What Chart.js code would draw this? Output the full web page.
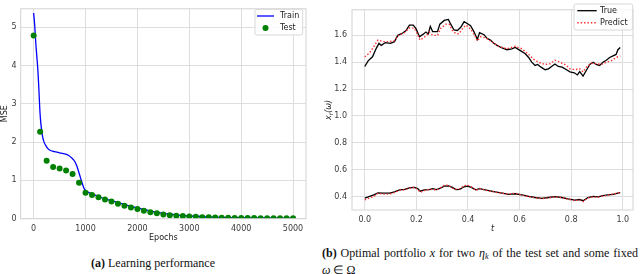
<!DOCTYPE html>
<html>
<head>
<meta charset="utf-8">
<script src="https://cdn.jsdelivr.net/npm/chart.js@4.4.1/dist/chart.umd.min.js"></script>
<style>
  html, body { margin: 0; padding: 0; background: #fff; }
  #page { position: relative; width: 640px; height: 274px; overflow: hidden; }
  canvas { position: absolute; }
  .cap { position: absolute; font-family: 'Liberation Serif', 'Times New Roman', serif; font-size: 12px; line-height: 14px; color: #111; white-space: nowrap; }
  .cap sub { font-size: 8px; line-height: 0; vertical-align: -2px; }
</style>
</head>
<body>
<div id="page">
  <canvas id="lossChart" width="320" height="250" style="left:0;top:0"></canvas>
  <canvas id="portfolioChart" width="320" height="236" style="left:320px;top:0"></canvas>
  <div class="cap" style="left:0;width:306px;top:256px;text-align:center"><b>(a)</b> Learning performance</div>
  <div class="cap" style="left:322px;width:316px;top:246px;text-align:justify;text-align-last:justify"><b>(b)</b> Optimal portfolio <i>x</i> for two <i>η<sub>k</sub></i> of the test set and some fixed</div>
  <div class="cap" style="left:322px;top:263px"><i>ω</i> ∈ Ω</div>
</div>
<script>
// ---- 左图：学习曲线 (MSE vs Epochs) ----
const testEpochs = [0, 125, 250, 375, 500, 625, 750, 875, 1000, 1125, 1250, 1375, 1500, 1625, 1750, 1875,
  2000, 2125, 2250, 2375, 2500, 2625, 2750, 2875, 3000, 3125, 3250, 3375, 3500, 3625, 3750, 3875,
  4000, 4125, 4250, 4375, 4500, 4625, 4750, 4875, 5000];
const testMse = [4.78, 2.27, 1.51, 1.35, 1.31, 1.26, 1.17, 0.94, 0.68, 0.62, 0.56, 0.50, 0.45, 0.39, 0.34, 0.29,
  0.25, 0.21, 0.17, 0.14, 0.11, 0.09, 0.08, 0.07, 0.06, 0.05, 0.04, 0.035, 0.03, 0.027, 0.024, 0.021,
  0.019, 0.017, 0.016, 0.015, 0.014, 0.013, 0.012, 0.011, 0.01];
const trainEpochs = [0, 20, 40, 60, 80, 100, 115, 130, 150, 175, 200, 225, 275, 325, 400, 500, 600, 675, 740,
  790, 830, 865, 900, 930, 960, 990, 1030, 1125, 1250, 1375, 1500, 1750, 2000, 2250, 2500, 2750, 3000,
  3500, 4000, 4500, 5000];
const trainMse = [5.37, 5.05, 4.6, 4.25, 3.9, 3.4, 2.95, 2.62, 2.35, 2.12, 2.0, 1.93, 1.83, 1.78, 1.75, 1.72,
  1.69, 1.65, 1.58, 1.5, 1.38, 1.24, 1.08, 0.95, 0.83, 0.75, 0.70, 0.65, 0.58, 0.52, 0.47, 0.37, 0.28,
  0.20, 0.14, 0.10, 0.07, 0.04, 0.025, 0.018, 0.013];
const lossXTicks = [0, 1000, 2000, 3000, 4000, 5000];
const lossYTicks = [0, 1, 2, 3, 4, 5];

// ---- 右图：最优组合 x_r(ω) vs t ----
const upperTrue = [[0, 1.368], [0.013, 1.41], [0.03, 1.44], [0.045, 1.505], [0.055, 1.54], [0.064, 1.525],
  [0.08, 1.546], [0.1, 1.54], [0.115, 1.553], [0.128, 1.6], [0.147, 1.617], [0.16, 1.635], [0.173, 1.676],
  [0.188, 1.676], [0.199, 1.648], [0.212, 1.589], [0.224, 1.605], [0.237, 1.624], [0.246, 1.61], [0.254, 1.667],
  [0.263, 1.628], [0.282, 1.628], [0.291, 1.683], [0.308, 1.711], [0.324, 1.718], [0.333, 1.683], [0.346, 1.64],
  [0.359, 1.636], [0.372, 1.66], [0.385, 1.702], [0.397, 1.688], [0.41, 1.671], [0.423, 1.628], [0.436, 1.57],
  [0.445, 1.62], [0.462, 1.605], [0.474, 1.577], [0.487, 1.565], [0.5, 1.541], [0.513, 1.525], [0.532, 1.506],
  [0.551, 1.493], [0.57, 1.5], [0.583, 1.51], [0.603, 1.486], [0.622, 1.463], [0.635, 1.435], [0.647, 1.4],
  [0.66, 1.376], [0.67, 1.383], [0.683, 1.363], [0.699, 1.344], [0.712, 1.351], [0.724, 1.368], [0.737, 1.387],
  [0.75, 1.368], [0.765, 1.363], [0.782, 1.344], [0.795, 1.328], [0.812, 1.321], [0.824, 1.305], [0.833, 1.33],
  [0.846, 1.297], [0.859, 1.34], [0.872, 1.383], [0.885, 1.4], [0.897, 1.383], [0.91, 1.376], [0.923, 1.4],
  [0.936, 1.415], [0.949, 1.435], [0.962, 1.447], [0.974, 1.458], [0.981, 1.493], [0.99, 1.51]];
const upperPredict = [[0, 1.44], [0.019, 1.47], [0.038, 1.525], [0.051, 1.565], [0.071, 1.553], [0.096, 1.553],
  [0.115, 1.56], [0.128, 1.595], [0.154, 1.62], [0.173, 1.655], [0.192, 1.653], [0.205, 1.605], [0.214, 1.565],
  [0.227, 1.58], [0.24, 1.6], [0.25, 1.624], [0.263, 1.6], [0.282, 1.6], [0.295, 1.653], [0.314, 1.683],
  [0.327, 1.683], [0.34, 1.636], [0.353, 1.612], [0.365, 1.612], [0.378, 1.648], [0.391, 1.676], [0.404, 1.66],
  [0.417, 1.628], [0.429, 1.589], [0.436, 1.558], [0.449, 1.589], [0.468, 1.582], [0.487, 1.558], [0.506, 1.534],
  [0.519, 1.518], [0.551, 1.5], [0.583, 1.518], [0.609, 1.5], [0.635, 1.458], [0.654, 1.423], [0.673, 1.4],
  [0.699, 1.383], [0.718, 1.388], [0.737, 1.415], [0.756, 1.4], [0.776, 1.383], [0.795, 1.351], [0.814, 1.344],
  [0.833, 1.351], [0.846, 1.328], [0.859, 1.363], [0.878, 1.392], [0.897, 1.388], [0.917, 1.383], [0.936, 1.4],
  [0.955, 1.41], [0.974, 1.435], [0.99, 1.447]];
const lowerTrue = [[0, 0.388], [0.019, 0.402], [0.035, 0.412], [0.051, 0.428], [0.071, 0.426], [0.096, 0.426],
  [0.115, 0.435], [0.135, 0.45], [0.154, 0.454], [0.173, 0.464], [0.192, 0.468], [0.205, 0.459], [0.215, 0.44],
  [0.231, 0.45], [0.25, 0.452], [0.263, 0.459], [0.279, 0.452], [0.295, 0.464], [0.308, 0.478], [0.324, 0.48],
  [0.34, 0.468], [0.353, 0.452], [0.368, 0.454], [0.385, 0.473], [0.397, 0.478], [0.413, 0.468], [0.43, 0.45],
  [0.445, 0.459], [0.462, 0.452], [0.481, 0.445], [0.506, 0.435], [0.532, 0.426], [0.558, 0.417], [0.583, 0.421],
  [0.609, 0.412], [0.635, 0.402], [0.66, 0.393], [0.686, 0.386], [0.712, 0.393], [0.737, 0.4], [0.763, 0.393],
  [0.788, 0.383], [0.814, 0.374], [0.833, 0.378], [0.846, 0.369], [0.865, 0.393], [0.885, 0.402], [0.904, 0.398],
  [0.923, 0.407], [0.942, 0.412], [0.962, 0.417], [0.981, 0.426], [0.99, 0.43]];
const lowerPredict = [[0, 0.375], [0.019, 0.39], [0.035, 0.4], [0.051, 0.425], [0.071, 0.418], [0.096, 0.418],
  [0.115, 0.43], [0.135, 0.448], [0.154, 0.45], [0.173, 0.462], [0.192, 0.47], [0.205, 0.452], [0.215, 0.432],
  [0.231, 0.445], [0.25, 0.455], [0.263, 0.452], [0.279, 0.448], [0.295, 0.468], [0.308, 0.482], [0.324, 0.485],
  [0.34, 0.462], [0.353, 0.455], [0.368, 0.458], [0.385, 0.48], [0.397, 0.485], [0.413, 0.472], [0.43, 0.445],
  [0.445, 0.46], [0.462, 0.45], [0.481, 0.442], [0.506, 0.432], [0.532, 0.425], [0.558, 0.418], [0.583, 0.425],
  [0.609, 0.41], [0.635, 0.4], [0.66, 0.39], [0.686, 0.385], [0.712, 0.39], [0.737, 0.398], [0.763, 0.392],
  [0.788, 0.38], [0.814, 0.37], [0.833, 0.375], [0.846, 0.362], [0.865, 0.39], [0.885, 0.398], [0.904, 0.395],
  [0.923, 0.405], [0.942, 0.41], [0.962, 0.42], [0.981, 0.425], [0.99, 0.435]];
const portXTicks = [0.0, 0.2, 0.4, 0.6, 0.8, 1.0];
const portYTicks = [0.4, 0.6, 0.8, 1.0, 1.2, 1.4, 1.6];

const GRID = '#dedede';
const FRAME = '#d2d2d2';
const TICK_COLOR = '#3a3a3a';
const SANS = "'DejaVu Sans', sans-serif";

const toXY = (xs, ys) => xs.map((x, i) => ({ x: x, y: ys[i] }));
const pairsToXY = pairs => pairs.map(p => ({ x: p[0], y: p[1] }));

// 画图框（seaborn whitegrid 风格的四边框）
const framePlugin = {
  id: 'frame',
  afterDraw(chart) {
    const { ctx, chartArea: a } = chart;
    ctx.save();
    ctx.strokeStyle = FRAME;
    ctx.lineWidth = 1;
    ctx.strokeRect(a.left, a.top, a.right - a.left, a.bottom - a.top);
    ctx.restore();
  }
};

// 图内图例
const boxLegendPlugin = {
  id: 'boxLegend',
  afterDraw(chart, args, opts) {
    if (!opts.items) return;
    const { ctx } = chart;
    const b = opts.box;
    ctx.save();
    ctx.fillStyle = 'rgba(255,255,255,0.85)';
    ctx.strokeStyle = '#d8d8d8';
    ctx.lineWidth = 1;
    ctx.beginPath();
    ctx.roundRect(b.x, b.y, b.w, b.h, 2);
    ctx.fill();
    ctx.stroke();
    ctx.font = '8px ' + SANS;
    ctx.textBaseline = 'middle';
    opts.items.forEach(it => {
      const ds = chart.data.datasets[it.dataset];
      if (it.kind === 'line') {
        ctx.strokeStyle = ds.borderColor;
        ctx.lineWidth = ds.borderWidth;
        ctx.setLineDash(ds.borderDash || []);
        ctx.beginPath();
        ctx.moveTo(it.x0, it.y);
        ctx.lineTo(it.x1, it.y);
        ctx.stroke();
        ctx.setLineDash([]);
      } else {
        ctx.fillStyle = ds.pointBackgroundColor;
        ctx.beginPath();
        ctx.arc((it.x0 + it.x1) / 2, it.y, ds.pointRadius, 0, Math.PI * 2);
        ctx.fill();
      }
      ctx.fillStyle = '#222';
      ctx.textAlign = 'left';
      ctx.fillText(ds.label, it.tx, it.y);
    });
    ctx.restore();
  }
};

// y 轴标题 x_r(ω)，带下标
const mathYTitlePlugin = {
  id: 'mathYTitle',
  afterDraw(chart, args, opts) {
    if (!opts.x) return;
    const { ctx, chartArea: a } = chart;
    const main = 'italic 8px ' + SANS;
    const sub = 'italic 6px ' + SANS;
    ctx.save();
    ctx.font = main;
    const wx = ctx.measureText('x').width;
    const wp = ctx.measureText('(ω)').width;
    ctx.font = sub;
    const wr = ctx.measureText('r').width;
    const total = wx + wr + wp;
    ctx.translate(opts.x, (a.top + a.bottom) / 2);
    ctx.rotate(-Math.PI / 2);
    ctx.fillStyle = '#222';
    ctx.textBaseline = 'alphabetic';
    ctx.textAlign = 'left';
    let cx = -total / 2;
    ctx.font = main;
    ctx.fillText('x', cx, 3);
    cx += wx;
    ctx.font = sub;
    ctx.fillText('r', cx, 4.5);
    cx += wr;
    ctx.font = main;
    ctx.fillText('(ω)', cx, 3);
    ctx.restore();
  }
};

new Chart(document.getElementById('lossChart').getContext('2d'), {
  type: 'line',
  data: {
    datasets: [{
      label: 'Train',
      data: toXY(trainEpochs, trainMse),
      borderColor: '#0000ff',
      borderWidth: 1.3,
      pointRadius: 0,
      tension: 0.3,
      order: 1
    }, {
      label: 'Test',
      data: toXY(testEpochs, testMse),
      showLine: false,
      pointRadius: 3,
      pointBackgroundColor: '#008000',
      pointBorderWidth: 0,
      borderColor: '#008000',
      order: 0
    }]
  },
  options: {
    responsive: false,
    animation: false,
    layout: { padding: { top: 5, right: 14, left: 0, bottom: 0 } },
    plugins: {
      legend: { display: false },
      tooltip: { enabled: false },
      boxLegend: {
        box: { x: 255, y: 9.3, w: 47.7, h: 25.7 },
        items: [
          { dataset: 0, kind: 'line', x0: 257, x1: 274, y: 16, tx: 280 },
          { dataset: 1, kind: 'dot', x0: 257, x1: 274, y: 28, tx: 280 }
        ]
      }
    },
    scales: {
      x: {
        type: 'linear',
        min: -250,
        max: 5250,
        afterFit: s => { s.height = 31.3; },
        afterBuildTicks: s => { s.ticks = lossXTicks.map(v => ({ value: v })); },
        grid: { color: GRID, drawTicks: false },
        border: { display: false },
        ticks: { color: TICK_COLOR, font: { family: SANS, size: 8 }, padding: 5, maxRotation: 0,
          callback: v => String(v) },
        title: { display: true, text: 'Epochs', color: '#222', font: { family: SANS, size: 8 },
          padding: { top: 0, bottom: 7.2 } }
      },
      y: {
        min: 0,
        max: 5.48,
        afterFit: s => { s.width = 20.7; },
        afterBuildTicks: s => { s.ticks = lossYTicks.map(v => ({ value: v })); },
        grid: { color: GRID, drawTicks: false },
        border: { display: false },
        ticks: { color: TICK_COLOR, font: { family: SANS, size: 8 }, padding: 4,
          callback: v => String(v) },
        title: { display: true, text: 'MSE', color: '#222', font: { family: SANS, size: 8 },
          padding: { top: 0, bottom: 0 } }
      }
    }
  },
  plugins: [framePlugin, boxLegendPlugin]
});

new Chart(document.getElementById('portfolioChart').getContext('2d'), {
  type: 'line',
  data: {
    datasets: [{
      label: 'True',
      data: pairsToXY(upperTrue),
      borderColor: '#000000',
      borderWidth: 1.3,
      pointRadius: 0,
      order: 1
    }, {
      label: 'Predict',
      data: pairsToXY(upperPredict),
      borderColor: '#ff2a2a',
      borderWidth: 1.4,
      borderDash: [1.4, 2],
      pointRadius: 0,
      order: 0
    }, {
      label: 'True',
      data: pairsToXY(lowerTrue),
      borderColor: '#000000',
      borderWidth: 1.3,
      pointRadius: 0,
      order: 1
    }, {
      label: 'Predict',
      data: pairsToXY(lowerPredict),
      borderColor: '#ff2a2a',
      borderWidth: 1.4,
      borderDash: [1.4, 2],
      pointRadius: 0,
      order: 0
    }]
  },
  options: {
    responsive: false,
    animation: false,
    layout: { padding: { top: 0, right: 7, left: 0, bottom: 0 } },
    plugins: {
      legend: { display: false },
      tooltip: { enabled: false },
      mathYTitle: { x: 8.3 },
      boxLegend: {
        box: { x: 254, y: 4, w: 58.7, h: 26 },
        items: [
          { dataset: 0, kind: 'line', x0: 257.3, x1: 276.7, y: 10.7, tx: 280 },
          { dataset: 1, kind: 'line', x0: 257.3, x1: 276.7, y: 22.7, tx: 280 }
        ]
      }
    },
    scales: {
      x: {
        type: 'linear',
        min: -0.0495,
        max: 1.0395,
        afterFit: s => { s.height = 26; },
        afterBuildTicks: s => { s.ticks = portXTicks.map(v => ({ value: v })); },
        grid: { color: GRID, drawTicks: false },
        border: { display: false },
        ticks: { color: TICK_COLOR, font: { family: SANS, size: 8 }, padding: 5, maxRotation: 0,
          callback: v => v.toFixed(1) },
        title: { display: true, text: 't', color: '#222', font: { family: SANS, size: 8, style: 'italic' },
          padding: { top: 0, bottom: 1.9 } }
      },
      y: {
        min: 0.3,
        max: 1.79,
        afterFit: s => { s.width = 32; },
        afterBuildTicks: s => { s.ticks = portYTicks.map(v => ({ value: v })); },
        grid: { color: GRID, drawTicks: false },
        border: { display: false },
        ticks: { color: TICK_COLOR, font: { family: SANS, size: 8 }, padding: 5,
          callback: v => v.toFixed(1) }
      }
    }
  },
  plugins: [framePlugin, boxLegendPlugin, mathYTitlePlugin]
});
</script>
</body>
</html>
